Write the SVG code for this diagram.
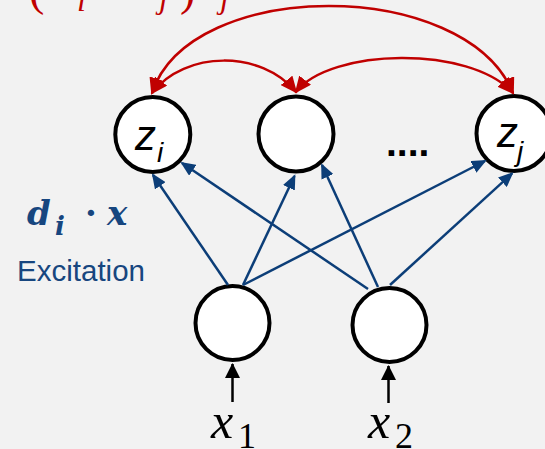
<svg xmlns="http://www.w3.org/2000/svg" width="545" height="449" viewBox="0 0 545 449">
  <defs>
    <style>
      .node { fill: #ffffff; stroke: #000000; stroke-width: 4; }
      .wire { fill: none; stroke: #0c3e78; stroke-width: 2.5; marker-end: url(#headBlue); }
      .lat { fill: none; stroke: #c00000; stroke-width: 2.5; marker-start: url(#headRed); marker-end: url(#headRed); }
      .inp { fill: none; stroke: #000000; stroke-width: 2.5; marker-end: url(#headBlack); }
      .zlab { font-family: "Liberation Sans", Arial, sans-serif; font-style: italic; fill: #000000; }
      .math { font-family: "Liberation Serif", "Times New Roman", serif; }
      .red { fill: #c00000; }
      .blue { fill: #17467f; }
    </style>
    <marker id="headBlue" viewBox="0 0 15 13" markerWidth="15" markerHeight="13" refX="13" refY="6.5" orient="auto" markerUnits="userSpaceOnUse">
      <path d="M0,0 L15,6.5 L0,13 z" fill="#0c3e78"/>
    </marker>
    <marker id="headRed" viewBox="0 0 17 15" markerWidth="17" markerHeight="15" refX="15" refY="7.5" orient="auto-start-reverse" markerUnits="userSpaceOnUse">
      <path d="M0,0 L17,7.5 L0,15 z" fill="#c00000"/>
    </marker>
    <marker id="headBlack" viewBox="0 0 15 15" markerWidth="15" markerHeight="15" refX="14" refY="7.5" orient="auto" markerUnits="userSpaceOnUse">
      <path d="M0,0 L15,7.5 L0,15 z" fill="#000000"/>
    </marker>
  </defs>

  <rect x="0" y="0" width="545" height="449" fill="#f2f2f2"/>

  <!-- lateral term, runs off the top edge -->
  <text class="math red" font-size="46">
    <tspan x="29" y="5">(</tspan><tspan x="48" y="-4" font-style="italic">z</tspan><tspan x="77" y="11" font-size="32" font-style="italic">i</tspan><tspan x="98" y="-4">·</tspan><tspan x="125" y="-4" font-style="italic">z</tspan><tspan x="159" y="8" font-size="32" font-style="italic">j</tspan><tspan x="180" y="5">)</tspan><tspan x="198" y="-4" font-style="italic">z</tspan><tspan x="220" y="8" font-size="32" font-style="italic">j</tspan>
  </text>

  <!-- excitation label -->
  <g id="excitation-label">
    <text class="blue" font-family="'DejaVu Serif', serif" font-weight="bold" font-style="italic" font-size="34">
      <tspan x="27" y="225">d</tspan><tspan x="55" y="235" font-size="26">i</tspan><tspan x="85" y="225" font-style="normal">·</tspan><tspan x="107" y="225">x</tspan>
    </text>
    <text class="blue" x="17" y="281" font-family="'Liberation Sans', Arial, sans-serif" font-size="29" textLength="128" lengthAdjust="spacingAndGlyphs">Excitation</text>
  </g>

  <!-- output layer -->
  <g id="z_i">
    <circle class="node" cx="152.8" cy="134.5" r="37.5"/>
    <text class="zlab" x="135" y="150" font-size="42">z</text>
    <text class="zlab" x="157" y="162" font-size="28">i</text>
  </g>
  <g id="z_mid">
    <circle class="node" cx="296" cy="134" r="37.5"/>
  </g>
  <g id="ellipsis">
    <text x="386" y="156" font-family="'Liberation Sans', Arial, sans-serif" font-weight="bold" font-size="39">....</text>
  </g>
  <g id="z_j">
    <circle class="node" cx="514" cy="133.5" r="37.5"/>
    <text class="zlab" x="497" y="147" font-size="42">z</text>
    <text class="zlab" x="517" y="161" font-size="28">j</text>
  </g>

  <!-- input layer -->
  <g id="x1">
    <circle class="node" cx="232.5" cy="323" r="37"/>
    <text class="math" x="211" y="438" font-size="50" font-style="italic">x</text>
    <text class="math" x="238" y="448" font-size="36">1</text>
  </g>
  <g id="x2">
    <circle class="node" cx="389.5" cy="325" r="37"/>
    <text class="math" x="368" y="438" font-size="50" font-style="italic">x</text>
    <text class="math" x="395" y="448" font-size="36">2</text>
  </g>

  <!-- connectors -->
  <g id="connectors">
    <path class="wire" d="M228,285 L153,175"/>
    <path class="wire" d="M368,289 L182,163"/>
    <path class="wire" d="M243,285 L294.5,176"/>
    <path class="wire" d="M378,287 L322,165"/>
    <path class="wire" d="M243,285 L485,161"/>
    <path class="wire" d="M390,285 L512,173.5"/>

    <path class="lat" d="M152,93 C190,-23 465,-23 513,93"/>
    <path class="lat" d="M152,93 C185,50 262,50 296,92"/>
    <path class="lat" d="M296,92 C330,48 470,45 513,93"/>

    <path class="inp" d="M232.5,402 L232.5,364"/>
    <path class="inp" d="M388.5,403 L388.5,366"/>
  </g>
</svg>
